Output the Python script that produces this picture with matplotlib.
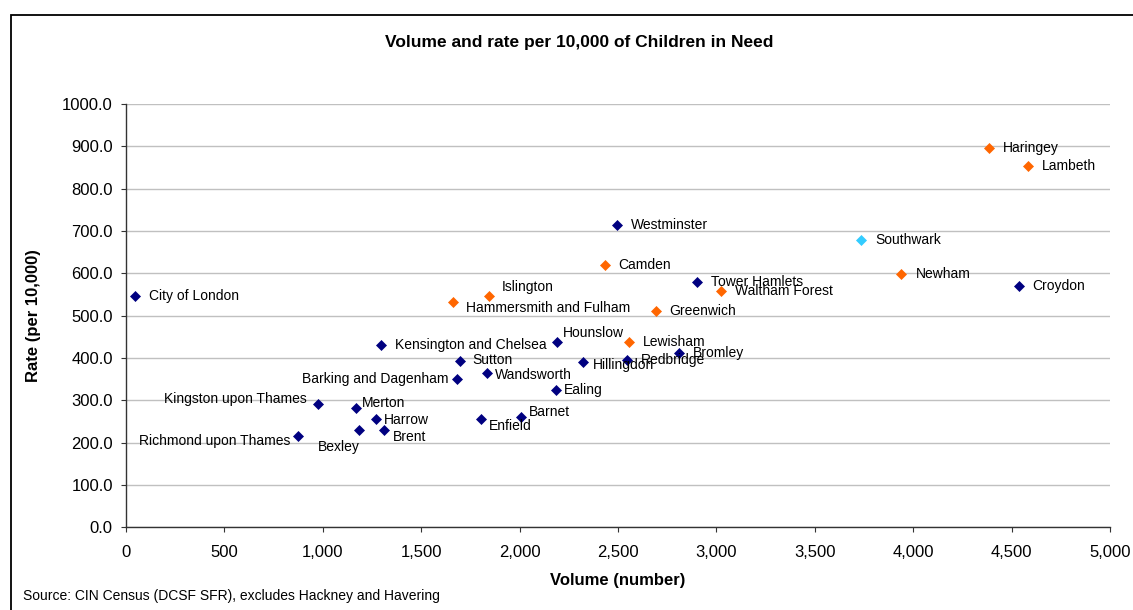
import matplotlib
matplotlib.use("Agg")
import matplotlib.pyplot as plt
from matplotlib.patches import Rectangle

plt.rcParams['font.family'] = ['Liberation Sans', 'DejaVu Sans']

# data
boroughs = ['City of London', 'Kensington and Chelsea', 'Sutton', 'Wandsworth',
            'Barking and Dagenham', 'Kingston upon Thames', 'Merton', 'Harrow',
            'Enfield', 'Barnet', 'Bexley', 'Brent', 'Richmond upon Thames',
            'Westminster', 'Camden', 'Islington', 'Hammersmith and Fulham',
            'Tower Hamlets', 'Waltham Forest', 'Greenwich', 'Hounslow', 'Lewisham',
            'Bromley', 'Hillingdon', 'Redbridge', 'Ealing', 'Haringey', 'Lambeth',
            'Southwark', 'Newham', 'Croydon']
volume = [46, 1296, 1696, 1836, 1680, 976, 1170, 1270, 1805, 2009, 1186, 1311, 874,
          2496, 2432, 1843, 1663, 2903, 3022, 2691, 2188, 2557, 2810, 2324, 2544, 2183,
          4387, 4583, 3735, 3940, 4536]
rate = [546, 431, 393, 365, 350, 291, 281, 256, 256, 260, 230, 230, 215,
        714, 620, 546, 532, 580, 558, 511, 438, 438, 412, 390, 395, 324,
        897, 853, 679, 598, 570]
group = ['other', 'other', 'other', 'other', 'other', 'other', 'other', 'other',
         'other', 'other', 'other', 'other', 'other', 'other', 'orange', 'orange',
         'orange', 'other', 'orange', 'orange', 'other', 'orange', 'other', 'other',
         'other', 'other', 'orange', 'orange', 'cyan', 'orange', 'other']

colours = {'other': '#000080', 'orange': '#FF6600', 'cyan': '#33CCFF'}

# label placement in pixels: (dx, dy downwards, ha)
label_offsets = {
    'Kingston upon Thames': (-11, -5, 'right'),
    'Barking and Dagenham': (-8, 0, 'right'),
    'Richmond upon Thames': (-8, 5, 'right'),
    'Bexley': (-21, 17, 'center'),
    'Merton': (6, -5, 'left'),
    'Harrow': (8, 1, 'left'),
    'Brent': (9, 7, 'left'),
    'Enfield': (8, 7, 'left'),
    'Barnet': (8, -5, 'left'),
    'Wandsworth': (8, 2, 'left'),
    'Sutton': (13, -1, 'left'),
    'Islington': (13, -9, 'left'),
    'Hammersmith and Fulham': (13, 6, 'left'),
    'Hounslow': (6, -9, 'left'),
    'Hillingdon': (10, 3, 'left'),
    'Ealing': (8, 0, 'left'),
}

W, H = 1133, 610
fig = plt.figure(figsize=(W / 100, H / 100), dpi=100)
ax = fig.add_axes([126 / W, 1 - 527.3 / H, (1110 - 126) / W, (527.3 - 104) / H])

# outer chart border (runs off the right and bottom of the image)
fig.patches.append(Rectangle((11 / W, -0.1), 1.2, 1 - 15 / H + 0.1,
                             transform=fig.transFigure, fill=False,
                             edgecolor='black', linewidth=1.3))

for g in ['other', 'orange', 'cyan']:
    xs = [v for v, gg in zip(volume, group) if gg == g]
    ys = [r for r, gg in zip(rate, group) if gg == g]
    ax.plot(xs, ys, linestyle='none', marker='D', markersize=5.2,
            color=colours[g], markeredgewidth=0.5, zorder=3)

px = 0.72  # points per pixel at 100 dpi
for name, x, y in zip(boroughs, volume, rate):
    dx, dy, ha = label_offsets.get(name, (14, 0, 'left'))
    ax.annotate(name, (x, y), xytext=(dx * px, -dy * px), textcoords='offset points',
                ha=ha, va='center', fontsize=10, color='black', zorder=4)

ax.set_xlim(0, 5000)
ax.set_ylim(0, 1000)
ax.set_xticks(range(0, 5001, 500))
ax.set_xticklabels(['{:,}'.format(v) for v in range(0, 5001, 500)])
ax.set_yticks(range(0, 1001, 100))
ax.set_yticklabels(['{:.1f}'.format(v) for v in range(0, 1001, 100)])
ax.tick_params(axis='both', labelsize=12, length=3.5, width=0.8, color='#333333')
ax.tick_params(axis='y', pad=6)
ax.tick_params(axis='x', pad=9)

ax.grid(axis='y', color='#C0C0C0', linewidth=1)
ax.set_axisbelow(True)
for side in ['top', 'right']:
    ax.spines[side].set_visible(False)
for side in ['left', 'bottom']:
    ax.spines[side].set_color('#333333')
    ax.spines[side].set_linewidth(1)

fig.text(579 / W, 1 - 43 / H, 'Volume and rate per 10,000 of Children in Need',
         ha='center', va='center', fontsize=12.5, fontweight='bold')
fig.text(618 / W, 1 - 581 / H, 'Volume (number)', ha='center', va='center',
         fontsize=12, fontweight='bold')
fig.text(34 / W, 1 - 316 / H, 'Rate (per 10,000)', ha='center', va='center',
         rotation=90, fontsize=12, fontweight='bold')
fig.text(23 / W, 1 - 596 / H, 'Source: CIN Census (DCSF SFR), excludes Hackney and Havering',
         ha='left', va='center', fontsize=10)

fig.savefig('out.png', dpi=100)
